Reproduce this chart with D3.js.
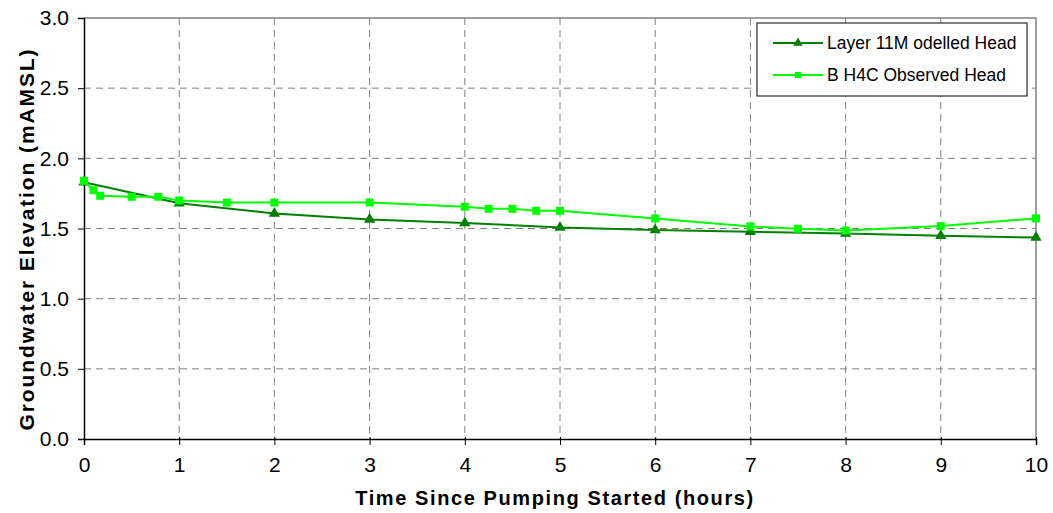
<!DOCTYPE html>
<html>
<head>
<meta charset="utf-8">
<script src="https://cdn.jsdelivr.net/npm/d3@7"></script>
<style>
  html, body { margin: 0; padding: 0; background: #fff; }
  svg { display: block; font-family: "Liberation Sans", Arial, sans-serif; }
</style>
</head>
<body>
<svg id="chart" width="1053" height="513"></svg>
<script>
// Modelled head (Layer 11) at hourly output times
const modelTime = [0, 1, 2, 3, 4, 5, 6, 7, 8, 9, 10];
const modelHead = [1.83, 1.68, 1.607, 1.565, 1.54, 1.507, 1.49, 1.477, 1.465, 1.448, 1.435];

// Observed head at borehole BH4C
const obsTime = [0, 0.1, 0.17, 0.5, 0.78, 1, 1.5, 2, 3, 4, 4.25, 4.5, 4.75, 5, 6, 7, 7.5, 8, 9, 10];
const obsHead = [1.84, 1.773, 1.733, 1.726, 1.726, 1.70, 1.685, 1.685, 1.685, 1.655, 1.64, 1.64, 1.626, 1.626, 1.572, 1.515, 1.498, 1.486, 1.517, 1.572];

const xTicks = [0, 1, 2, 3, 4, 5, 6, 7, 8, 9, 10];
const yTicks = [0, 0.5, 1.0, 1.5, 2.0, 2.5, 3.0];

const seriesNames = ["Layer 11M odelled Head", "B H4C Observed Head"];
const xTitle = "Time Since Pumping Started (hours)";
const yTitle = "Groundwater Elevation (mAMSL)";

const modelColor = "#008000";
const obsColor = "#00ff00";

const svg = d3.select("#chart");
const plot = { left: 84, right: 1036, top: 18, bottom: 439 };

const x = d3.scaleLinear().domain([0, 10]).range([plot.left, plot.right]);
const y = d3.scaleLinear().domain([0, 3]).range([plot.bottom, plot.top]);

// Dashed grid
const grid = svg.append("g");
grid.selectAll("line.v").data(xTicks.slice(1, -1)).join("line")
  .attr("x1", d => x(d)).attr("x2", d => x(d))
  .attr("y1", plot.top).attr("y2", plot.bottom)
  .attr("stroke", "#808080").attr("stroke-width", 1)
  .attr("stroke-dasharray", "7,5");
grid.selectAll("line.h").data(yTicks.slice(1, -1)).join("line")
  .attr("x1", plot.left).attr("x2", plot.right)
  .attr("y1", d => y(d)).attr("y2", d => y(d))
  .attr("stroke", "#808080").attr("stroke-width", 1)
  .attr("stroke-dasharray", "7,5");

// Top and right frame
svg.append("path")
  .attr("d", `M${plot.left},${plot.top}H${plot.right}V${plot.bottom}`)
  .attr("fill", "none").attr("stroke", "#808080").attr("stroke-width", 1.5);

// Axes
const xAxis = svg.append("g")
  .attr("transform", `translate(0,${plot.bottom})`)
  .call(d3.axisBottom(x).tickValues(xTicks).tickFormat(d3.format("d")).tickSize(6).tickPadding(12));
const yAxis = svg.append("g")
  .attr("transform", `translate(${plot.left},0)`)
  .call(d3.axisLeft(y).tickValues(yTicks).tickFormat(d3.format(".1f")).tickSize(6).tickPadding(9));

[xAxis, yAxis].forEach(a => {
  a.select(".domain").attr("stroke", "#000").attr("stroke-width", 1.5);
  a.selectAll(".tick line").attr("stroke", "#000").attr("stroke-width", 1);
  a.selectAll(".tick text")
    .attr("font-family", "Liberation Sans, Arial, sans-serif")
    .attr("font-size", 21).attr("fill", "#000");
});
xAxis.selectAll(".tick line").attr("y1", -2);

// Axis titles
svg.append("text")
  .attr("x", 555).attr("y", 505)
  .attr("text-anchor", "middle")
  .attr("font-size", 20).attr("font-weight", "bold")
  .attr("letter-spacing", 1.6)
  .text(xTitle);
svg.append("text")
  .attr("transform", `translate(34,239) rotate(-90)`)
  .attr("text-anchor", "middle")
  .attr("font-size", 21).attr("font-weight", "bold")
  .attr("letter-spacing", 1.9)
  .text(yTitle);

const line = d3.line().x(d => x(d[0])).y(d => y(d[1]));
const modelPts = modelTime.map((t, i) => [t, modelHead[i]]);
const obsPts = obsTime.map((t, i) => [t, obsHead[i]]);

const tri = d3.symbol().type(d3.symbolTriangle);
const sq = d3.symbol().type(d3.symbolSquare);

// Modelled series
svg.append("path").datum(modelPts)
  .attr("d", line).attr("fill", "none")
  .attr("stroke", modelColor).attr("stroke-width", 2);
svg.append("g").selectAll("path").data(modelPts).join("path")
  .attr("transform", d => `translate(${x(d[0])},${y(d[1])})`)
  .attr("d", tri.size(55)).attr("fill", modelColor);

// Observed series
svg.append("path").datum(obsPts)
  .attr("d", line).attr("fill", "none")
  .attr("stroke", obsColor).attr("stroke-width", 2);
svg.append("g").selectAll("path").data(obsPts).join("path")
  .attr("transform", d => `translate(${x(d[0])},${y(d[1])})`)
  .attr("d", sq.size(64)).attr("fill", obsColor);

// Legend
const legend = svg.append("g");
legend.append("rect")
  .attr("x", 757).attr("y", 23).attr("width", 270).attr("height", 73)
  .attr("fill", "#fff").attr("stroke", "#000").attr("stroke-width", 1);
const rows = [
  { name: seriesNames[0], color: modelColor, sym: tri.size(40)(), cy: 43 },
  { name: seriesNames[1], color: obsColor, sym: sq.size(36)(), cy: 75 }
];
rows.forEach(r => {
  legend.append("line")
    .attr("x1", 773).attr("x2", 823).attr("y1", r.cy).attr("y2", r.cy)
    .attr("stroke", r.color).attr("stroke-width", 2);
  legend.append("path")
    .attr("transform", `translate(798,${r.cy})`)
    .attr("d", r.sym).attr("fill", r.color);
  legend.append("text")
    .attr("x", 827).attr("y", r.cy + 6)
    .attr("font-size", 17.5).attr("fill", "#000")
    .text(r.name);
});
</script>
</body>
</html>
